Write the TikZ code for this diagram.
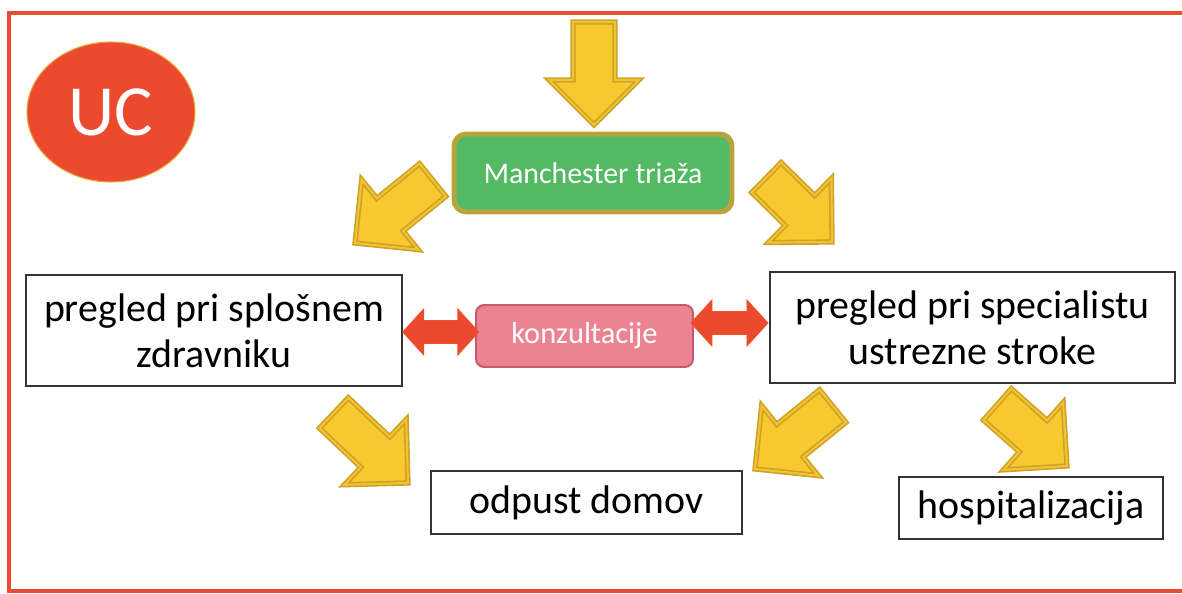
\documentclass[tikz,border=0pt]{standalone}
\usepackage{fontspec}
\setmainfont{Carlito}
\usepackage{tikz}
\usetikzlibrary{arrows.meta, positioning, shapes.geometric}

\definecolor{ucred}{HTML}{EC4A2F}
\definecolor{ucedge}{HTML}{E9A233}
\definecolor{framered}{HTML}{E94B35}
\definecolor{arrowgold}{HTML}{F7C92F}
\definecolor{arrowedge}{HTML}{CDA12A}
\definecolor{triagegreen}{HTML}{53B963}
\definecolor{triageedge}{HTML}{C9A035}
\definecolor{konzpink}{HTML}{EC8393}
\definecolor{konzedge}{HTML}{C45A6C}

\tikzset{
	fat arrow/.pic={
		\path[fill=arrowgold, draw=arrowedge, line width=0.9pt, double=arrowgold!85!arrowedge, double distance=1.2pt, line join=miter]
		(0,0) -- (-45,45) -- (-45,21) -- (-#1,21) -- (-#1,-21) -- (-45,-21) -- (-45,-45) -- cycle;
	},
	dbl arrow/.pic={
		\path[fill=ucred, draw=ucred!85!orange, line width=0.5pt, line join=miter]
		(0,0) -- (21,-23) -- (21,-11.5) -- (#1-21,-11.5) -- (#1-21,-23) -- (#1,0) -- (#1-21,23) -- (#1-21,11.5) -- (21,11.5) -- (21,23) -- cycle;
	}
}

\begin{document}
\begin{tikzpicture}[x=0.02cm, y=-0.02cm,
	box/.style={rectangle, draw=black!80, line width=0.9pt, fill=white, align=center, inner sep=0pt, font=\fontsize{22.7}{26}\selectfont}]
				\useasboundingbox (0,0) rectangle (1182,594);
				\draw[framered, line width=2.3pt] (1182,13) -- (9,13) -- (9,591) -- (1182,591);
				
				\node[ellipse, fill=ucred, draw=ucedge, line width=0.6pt, minimum width=3.36cm, minimum height=2.8cm, text=white, font=\fontsize{41}{48}\selectfont] (uc) at (111,112) {UC};
				
				\node[rectangle, rounded corners=0.24cm, fill=triagegreen, draw=triageedge, line width=0.9pt, double=triageedge!70!triagegreen, double distance=1pt, minimum width=5.56cm, minimum height=1.56cm, text=white, font=\fontsize{17}{20}\selectfont] (triage) at (593,173) {Manchester triaža};
				\node[box, minimum width=7.52cm, minimum height=2.22cm] (gp) at (214,330.5) {pregled pri splošnem\\ zdravniku};
				\node[box, minimum width=8.1cm, minimum height=2.22cm] (spec) at (972.5,327.5) {pregled pri specialistu\\ ustrezne stroke};
				\node[rectangle, rounded corners=0.16cm, fill=konzpink, draw=konzedge, line width=1.1pt, minimum width=4.34cm, minimum height=1.24cm, text=white, font=\fontsize{17.3}{20}\selectfont] (konz) at (584.5,336) {konzultacije};
				\node[box, minimum width=6.22cm, minimum height=1.26cm] (home) at (586.5,502.5) {odpust domov};
				\node[box, minimum width=5.28cm, minimum height=1.24cm] (hosp) at (1031,508) {hospitalizacija};
				
				\pic[rotate=-90] at (594,125) {fat arrow=103};
				\pic[rotate=219] at (355,243) {fat arrow=100};
				\pic[rotate=-44.5] at (832,242) {fat arrow=92};
				\pic[rotate=-43.4] at (408,483) {fat arrow=102};
				\pic[rotate=219] at (755,469) {fat arrow=100};
				\pic[rotate=-41.5] at (1067,466) {fat arrow=93};
				
				\pic at ([yshift=-0.03cm]gp.east) {dbl arrow=76};
				\pic at ([xshift=-0.06cm, yshift=0.09cm]spec.west -| konz.east) {dbl arrow=77};
\end{tikzpicture}
\end{document}
